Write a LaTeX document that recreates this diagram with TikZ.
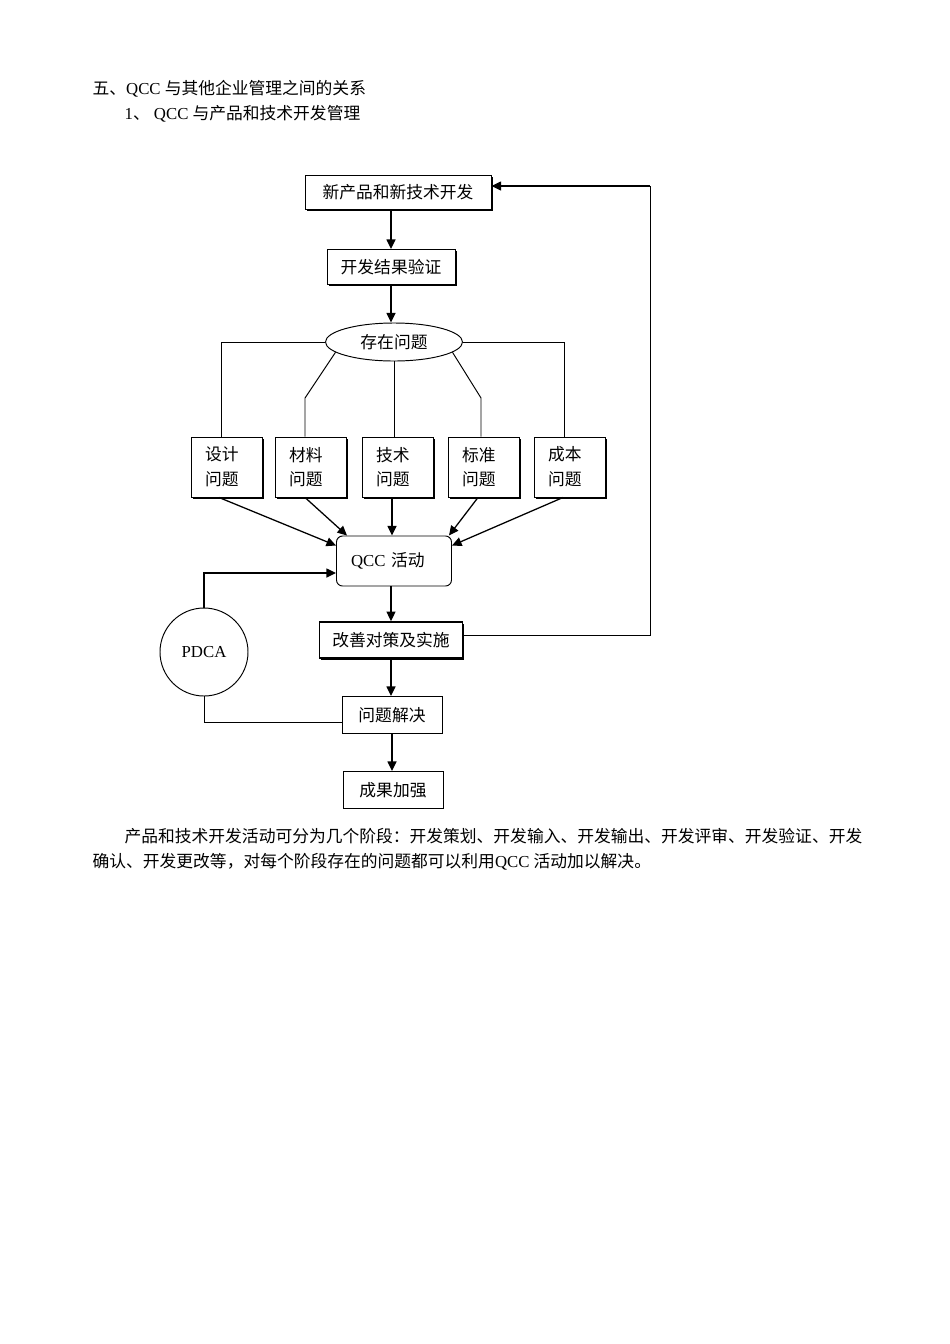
\documentclass[tikz,border=0pt]{standalone}
\usepackage{fontspec}
\setmainfont{Liberation Serif}
\newfontfamily\cjk{Noto Sans CJK SC}
\usetikzlibrary{shapes,arrows.meta,shadows}
\newdimen\pxu \pxu=0.6263pt
\newcommand\zh[1]{{\cjk #1}}

\begin{document}
\begin{tikzpicture}[->, >={Triangle[length=6pt,width=5.6pt]}, x=0.6263pt, y=-0.6263pt,
  line width=0.8pt, font=\fontsize{10.5}{15}\selectfont]
\tikzstyle{bx}=[draw, fill=white, inner sep=0pt, line width=0.6pt, font=\cjk\fontsize{10.5}{15}\selectfont,
  drop shadow={shadow xshift=1.2pt, shadow yshift=-1.2pt, fill=black, opacity=1}]
\tikzstyle{pl}=[draw, fill=white, inner sep=0pt, line width=0.6pt, font=\cjk\fontsize{10.5}{15}\selectfont]
\tikzstyle{sm}=[bx, minimum width=71\pxu, minimum height=60\pxu, text width=44\pxu, align=left,
  font=\cjk\fontsize{10.5}{15.5}\selectfont]
\tikzstyle{ln}=[-, line width=0.6pt]
\tikzstyle{txt}=[anchor=base west, inner sep=0pt]
\useasboundingbox (0,0) rectangle (950,1344);

% heading and text
\node[txt] (t1) at (92,94)  {\zh{五、}QCC \zh{与其他企业管理之间的关系}};
\node[txt] (t2) at (124,119) {1\zh{、} QCC \zh{与产品和技术开发管理}};
\node[txt] (p1) at (124,842) {\zh{产品和技术开发活动可分为几个阶段：开发策划、开发输入、开发输出、开发评审、开发验证、开发}};
\node[txt] (p2) at (92,867)  {\zh{确认、开发更改等，对每个阶段存在的问题都可以利用}QCC \zh{活动加以解决。}};

% flow
\node[bx, minimum width=186\pxu, minimum height=34\pxu] (xp) at (398,192) {新产品和新技术开发};
\node[bx, minimum width=128\pxu, minimum height=35\pxu] (yz) at (391,267) {开发结果验证};
\node[pl, ellipse, minimum width=137\pxu, minimum height=38\pxu] (wt) at (394,342) {存在问题};
\node[sm] (sj) at (227,467) {设计\\问题};
\node[sm] (cl) at (311,467) {材料\\问题};
\node[sm] (js) at (398,467) {技术\\问题};
\node[sm] (bz) at (484,467) {标准\\问题};
\node[sm] (cb) at (570,467) {成本\\问题};
\node[draw, line width=0.6pt, rounded corners=6\pxu, inner sep=0pt, minimum width=115\pxu,
  minimum height=50\pxu, text width=86\pxu, align=left] (qcc) at (394,561) {QCC \zh{活动}};
\node[draw, circle, line width=0.6pt, inner sep=0pt, minimum size=88\pxu] (pdca) at (204,652) {PDCA};
\node[bx, line width=1pt, minimum width=143\pxu, minimum height=36\pxu] (gs) at (391,640) {改善对策及实施};
\node[pl, minimum width=100\pxu, minimum height=37\pxu] (jj) at (392,715) {问题解决};
\node[pl, minimum width=100\pxu, minimum height=37\pxu] (cg) at (393,790) {成果加强};

\coordinate (kl) at (305,398);
\coordinate (kr) at (481,398);
\coordinate (rt) at (650,186);

\draw[ln] (wt.west) -| ([xshift=-6\pxu]sj.north);
\draw[ln] (wt.east) -| ([xshift=-6\pxu]cb.north);
\draw[ln] (wt.190) -- (kl) -- (kl |- cl.north);
\draw[ln] (wt.-10) -- (kr) -- (kr |- bz.north);
\draw[ln] (wt.south) -- (wt.south |- js.north);

\path
(yz.north |- xp.south)        edge (yz.north)
(yz.south)                    edge (yz.south |- wt.north)
([xshift=-8\pxu]sj.south)     edge ([yshift=-10\pxu]qcc.north west)
([xshift=-6\pxu]cl.south)     edge ([xshift=11\pxu]qcc.north west)
([xshift=-6\pxu]js.south)     edge ([xshift=-6\pxu]js.south |- qcc.north)
([xshift=-6\pxu]bz.south)     edge ([xshift=-3\pxu]qcc.north east)
([xshift=-7\pxu]cb.south)     edge ([yshift=-10\pxu]qcc.north east)
(gs.north |- qcc.south)       edge (gs.north)
(gs.south)                    edge (gs.south |- jj.north)
(jj.south)                    edge (jj.south |- cg.north);

\draw (pdca.north) |- ([yshift=-12\pxu]qcc.west);
\draw[ln] (pdca.south) |- ([yshift=-7\pxu]jj.west);
\draw[ln] ([yshift=5\pxu]gs.east) -| (rt);
\draw (rt) -- (rt -| xp.east);
\end{tikzpicture}
\end{document}
